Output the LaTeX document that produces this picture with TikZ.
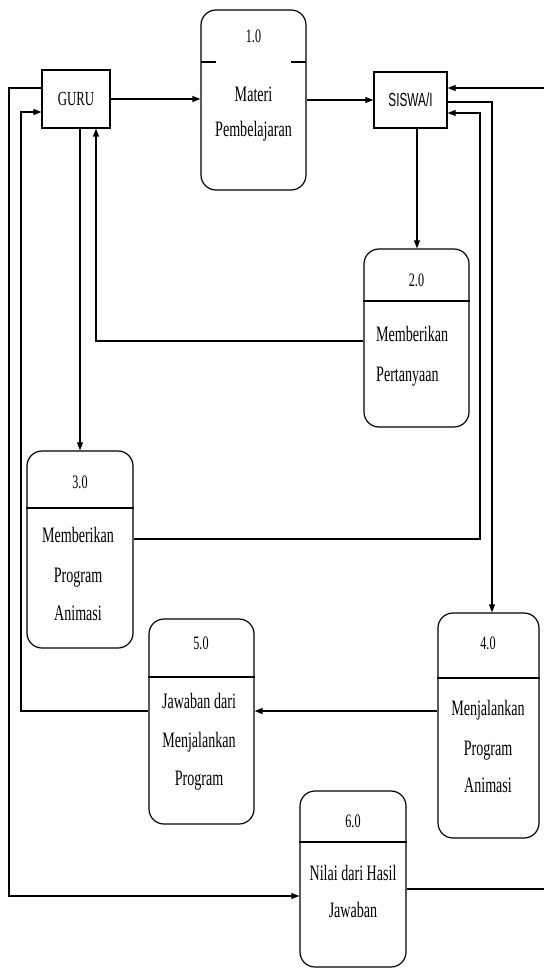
\documentclass[tikz,border=0pt]{standalone}
\usepackage{fontspec}
\setmainfont{Liberation Serif}[FakeStretch=0.64]
\newfontfamily\sisfont{Liberation Sans}[FakeStretch=0.62]
\usetikzlibrary{arrows.meta}
\begin{document}
\begin{tikzpicture}[x=1pt,y=-1pt,
  proc/.style={draw, line width=1.2pt, rounded corners=15pt, inner sep=0pt},
  ext/.style={draw, line width=1.2pt, inner sep=0pt},
  flow/.style={line width=1.2pt, -{Triangle[length=8pt,width=6pt]}},
  plain/.style={line width=1.2pt},
  num/.style={font=\fontsize{19}{21}\selectfont, anchor=base, inner sep=0pt},
  lbl/.style={font=\fontsize{22}{26}\selectfont, anchor=base, inner sep=0pt},
  lbll/.style={font=\fontsize{22}{26}\selectfont, anchor=base west, inner sep=0pt},
]
\useasboundingbox (0,0) rectangle (543,968);

% external entities
\node[ext, minimum width=68pt, minimum height=58pt, font=\fontsize{20}{22}\selectfont] (guru) at (76,99) {GURU};
\node[ext, minimum width=73pt, minimum height=56pt, font=\sisfont\fontsize{19}{22}\selectfont] (siswa) at (410.5,100) {SISWA/I};

% processes
\node[proc, minimum width=105pt, minimum height=180pt] (p1) at (253.5,100) {};
\node[proc, minimum width=105pt, minimum height=178pt] (p2) at (416.5,338) {};
\node[proc, minimum width=106pt, minimum height=197pt] (p3) at (80,549.5) {};
\node[proc, minimum width=101pt, minimum height=225pt] (p4) at (488.5,725.5) {};
\node[proc, minimum width=105pt, minimum height=205pt] (p5) at (201.5,721.5) {};
\node[proc, minimum width=106pt, minimum height=176pt] (p6) at (353,879) {};

% dividers
\draw[plain] (201,62) -- (216,62);
\draw[plain] (291,62) -- (306,62);
\draw[plain] (p2.west |- 0,301) -- (p2.east |- 0,301);
\draw[plain] (p3.west |- 0,508) -- (p3.east |- 0,508);
\draw[plain] (p4.west |- 0,678) -- (p4.east |- 0,678);
\draw[plain] (p5.west |- 0,677) -- (p5.east |- 0,677);
\draw[plain] (p6.west |- 0,842) -- (p6.east |- 0,842);

% texts
\node[num] (n1) at (253.5,43) {1.0};
\node[lbl] (t1a) at (253.5,102) {Materi};
\node[lbl] (t1b) at (253.5,137) {Pembelajaran};

\node[num] (n2) at (416.5,286) {2.0};
\node[lbll] (t2a) at (376,341) {Memberikan};
\node[lbll] (t2b) at (376,381) {Pertanyaan};

\node[num] (n3) at (80,488) {3.0};
\node[lbl] (t3a) at (78,542) {Memberikan};
\node[lbl] (t3b) at (78,582) {Program};
\node[lbl] (t3c) at (78,620) {Animasi};

\node[num] (n4) at (488,649) {4.0};
\node[lbl] (t4a) at (488,715) {Menjalankan};
\node[lbl] (t4b) at (488,755) {Program};
\node[lbl] (t4c) at (488,792) {Animasi};

\node[num] (n5) at (201,649) {5.0};
\node[lbl] (t5a) at (199,708) {Jawaban dari};
\node[lbl] (t5b) at (199,747) {Menjalankan};
\node[lbl] (t5c) at (199,785) {Program};

\node[num] (n6) at (353,827) {6.0};
\node[lbl] (t6a) at (353,880) {Nilai dari Hasil};
\node[lbl] (t6b) at (353,917) {Jawaban};

% bend coordinates
\coordinate (b4) at (96,341);
\coordinate (x80) at (80,0);
\coordinate (x417) at (417,0);
\coordinate (b6a) at (480,539);
\coordinate (b6b) at (480,113);
\coordinate (b7a) at (492,102);
\coordinate (y711) at (0,711);
\coordinate (b9a) at (21,711);
\coordinate (b9b) at (21,112);
\coordinate (b10a) at (9,88);
\coordinate (b10b) at (9,896);
\coordinate (b11a) at (547,889);
\coordinate (b11b) at (547,88);

% flows
\draw[flow] (guru.east) -- (guru.east -| p1.west);
\draw[flow] (p1.east |- siswa.west) -- (siswa.west);
\draw[flow] (siswa.south -| x417) -- (p2.north -| x417);
\draw[flow] (p2.west |- b4) -- (b4) -- (b4 |- guru.south);
\draw[flow] (guru.south -| x80) -- (p3.north -| x80);
\draw[flow] (p3.east |- b6a) -- (b6a) -- (b6b) -- (siswa.east |- b6b);
\draw[flow] (siswa.east |- b7a) -- (b7a) -- (b7a |- p4.north);
\draw[flow] (p4.west |- y711) -- (p5.east |- y711);
\draw[flow] (p5.west |- b9a) -- (b9a) -- (b9b) -- (guru.west |- b9b);
\draw[flow] (guru.west |- b10a) -- (b10a) -- (b10b) -- (p6.west |- b10b);
\draw[flow] (p6.east |- b11a) -- (b11a) -- (b11b) -- (siswa.east |- b11b);
\end{tikzpicture}
\end{document}
